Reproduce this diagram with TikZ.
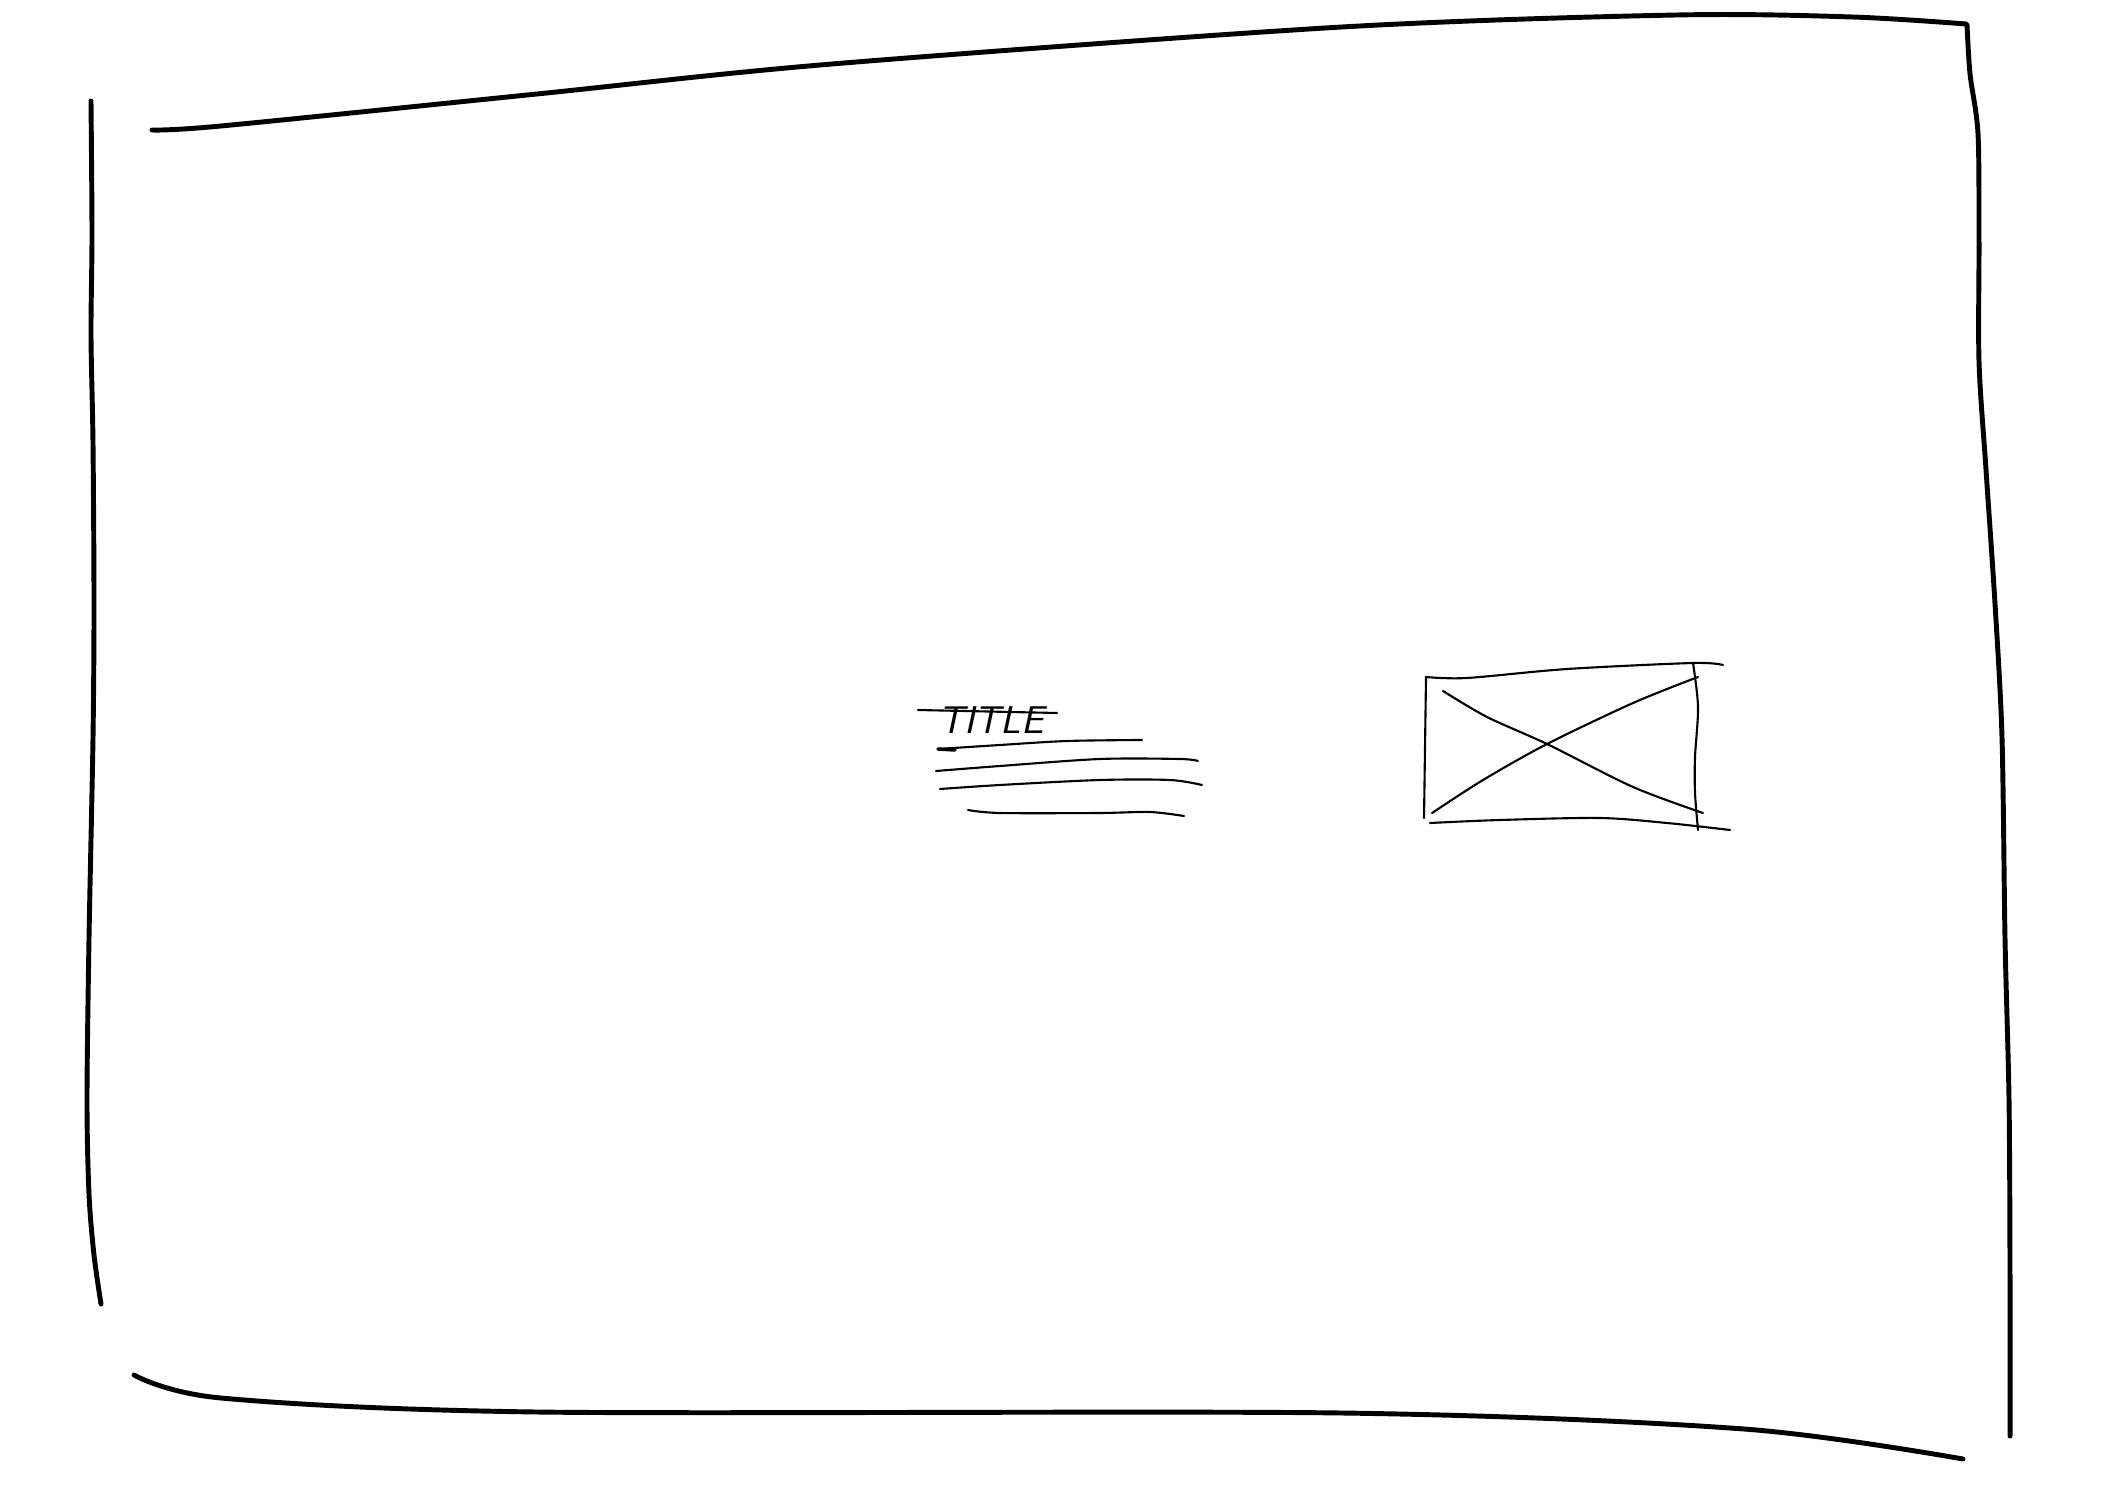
\documentclass[tikz,border=0pt]{standalone}
\begin{document}
\begin{tikzpicture}[x=0.01cm,y=-0.01cm,
  frame/.style={line width=1.4pt,line cap=round,line join=round},
  sketch/.style={line width=0.6pt,line cap=round,line join=round},
  hand/.style={font=\sffamily\itshape\fontsize{11}{13}\selectfont,inner sep=0pt}]
\useasboundingbox[fill=white] (0,0) rectangle (2104,1504);
% outer frame
\draw[frame] plot[smooth,tension=0.5] coordinates {(91,101) (92,235) (91,335) (93,443) (94,604) (93,738) (89,939) (87,1100) (89,1194) (94,1255) (101,1304)};
\draw[frame] plot[smooth,tension=0.5] coordinates {(152,130) (221,126) (537,94) (832,64) (1342,27) (1677,15) (1852,17) (1966,24)};
\draw[frame] plot[smooth,tension=0.5] coordinates {(1967,25) (1970,74) (1978,134) (1979,242) (1979,362) (1986,470) (1995,604) (2002,738) (2005,939) (2009,1100) (2010,1275) (2010,1436)};
\draw[frame] plot[smooth,tension=0.5] coordinates {(134,1375) (221,1398) (537,1412) (1342,1413) (1744,1429) (1963,1459)};
% title block
\node[hand,anchor=base west] (title) at (938,733) {TITLE};
\draw[sketch] (918,710) -- (1057,713);
\draw[line width=1pt,line cap=round] (938,749) -- (955,750);
\draw[sketch] plot[smooth,tension=0.5] coordinates {(938,749) (1000,745) (1067,741) (1142,740)};
\draw[sketch] plot[smooth,tension=0.5] coordinates {(936,771) (1000,766) (1100,759) (1180,759) (1198,761)};
\draw[sketch] plot[smooth,tension=0.5] coordinates {(940,789) (1000,785) (1100,780) (1170,780) (1202,785)};
\draw[sketch] plot[smooth,tension=0.5] coordinates {(968,810) (1000,813) (1100,813) (1150,812) (1184,816)};
% image placeholder
\draw[sketch] plot[smooth,tension=0.5] coordinates {(1426,677) (1467,678) (1567,669) (1693,663) (1723,665)};
\draw[sketch] (1426,677) -- (1424,818);
\draw[sketch] plot[smooth,tension=0.5] coordinates {(1693,663) (1698,707) (1695,757) (1695,793) (1698,830)};
\draw[sketch] plot[smooth,tension=0.5] coordinates {(1430,823) (1500,820) (1600,818) (1667,823) (1730,830)};
\draw[sketch] plot[smooth,tension=0.5] coordinates {(1443,691) (1487,717) (1547,744) (1633,787) (1703,813)};
\draw[sketch] plot[smooth,tension=0.5] coordinates {(1432,813) (1483,780) (1547,744) (1633,703) (1698,677)};
\end{tikzpicture}
\end{document}
